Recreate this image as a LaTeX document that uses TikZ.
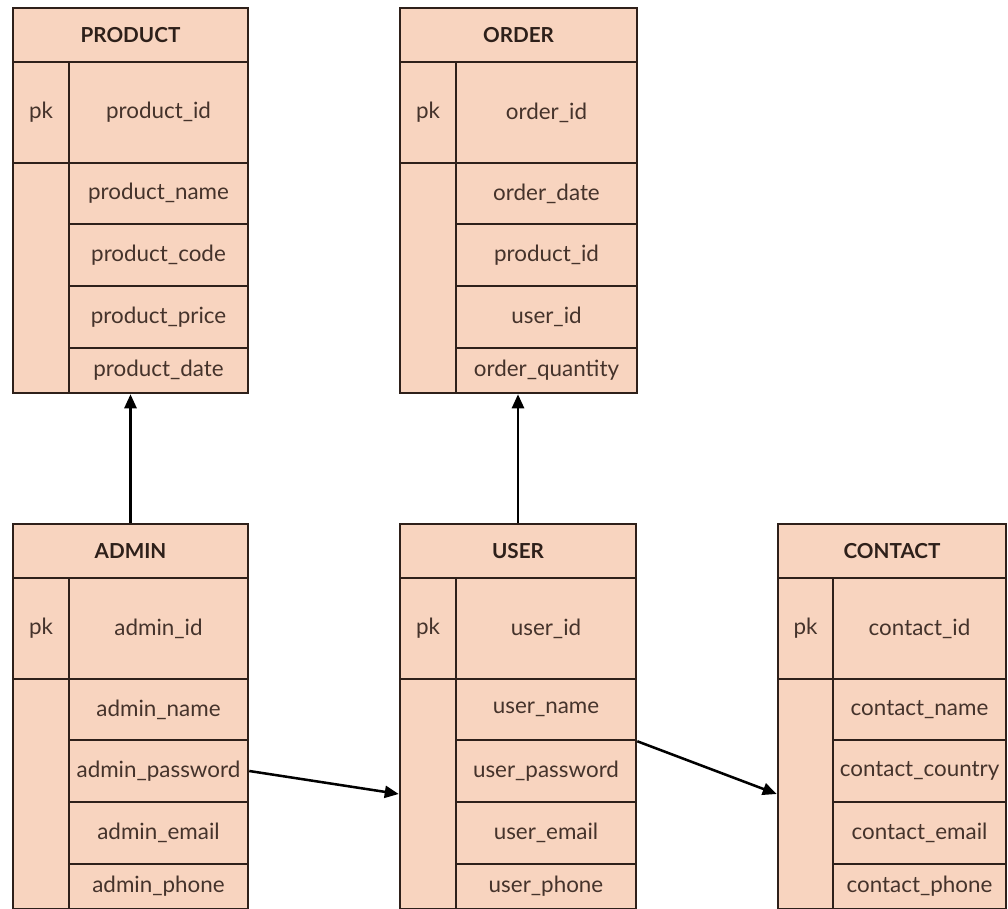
\documentclass[tikz,border=0pt]{standalone}
\usepackage{fontspec}
\setmainfont{Lato}
\usetikzlibrary{arrows.meta}
\definecolor{peach}{HTML}{F8D4BF}
\definecolor{edgec}{HTML}{2E201A}
\definecolor{ink}{HTML}{45332B}
\tikzset{
  cell/.style={draw=edgec, fill=peach, line width=1.9pt, inner sep=0pt, text=ink,
    font=\fontsize{16.8}{19}\selectfont},
  headcell/.style={cell, text=edgec, font=\bfseries\fontsize{15.5}{18}\selectfont},
  arr/.style={-{Triangle[length=10.5pt,width=9pt]}, line width=1.9pt, black},
}
% name, x1, y1, x2, y2, style, text
\newcommand\mycell[7]{%
  \node[#6, minimum width={((#4)-(#2))*0.75pt}, minimum height={((#5)-(#3))*0.75pt}]
    (#1) at ({((#2)+(#4))/2},{((#3)+(#5))/2}) {#7};}
% prefix, x0, xd, x1, ytop, header, pk field
\newcommand\mytable[7]{%
  \mycell{#1H}{#2}{#5}{#4}{(#5)+54}{headcell}{#6}
  \mycell{#1pk}{#2}{(#5)+54}{#3}{(#5)+155}{cell}{pk}
  \mycell{#1id}{#3}{(#5)+54}{#4}{(#5)+155}{cell}{#7}
  \mycell{#1L}{#2}{(#5)+155}{#3}{(#5)+385}{cell}{}}
% prefix, xd, x1, ytop, f1..f4
\newcommand\myrows[8]{%
  \mycell{#1a}{#2}{(#4)+155}{#3}{(#4)+216}{cell}{#5}
  \mycell{#1b}{#2}{(#4)+216}{#3}{(#4)+278}{cell}{#6}
  \mycell{#1c}{#2}{(#4)+278}{#3}{(#4)+340}{cell}{#7}
  \mycell{#1d}{#2}{(#4)+340}{#3}{(#4)+385}{cell}{#8}}
\begin{document}
\begin{tikzpicture}[x=0.75pt,y=-0.75pt]
\useasboundingbox (0,0) rectangle (1008,909);
% PRODUCT
\mytable{p}{13}{69}{248}{8}{PRODUCT}{product\_id}
\myrows{p}{69}{248}{8}{product\_name}{product\_code}{product\_price}{product\_date}
% ORDER
\mytable{o}{400}{456}{637}{8}{ORDER}{order\_id}
\myrows{o}{456}{637}{8}{order\_date}{product\_id}{user\_id}{order\_quantity}
% ADMIN
\mytable{a}{13}{69}{248}{524}{ADMIN}{admin\_id}
\myrows{a}{69}{248}{524}{admin\_name}{admin\_password}{admin\_email}{admin\_phone}
% USER
\mytable{u}{400}{456}{636}{524}{USER}{user\_id}
\myrows{u}{456}{636}{524}{user\_name}{user\_password}{user\_email}{user\_phone}
% CONTACT
\mytable{c}{778}{833}{1006}{524}{CONTACT}{contact\_id}
\myrows{c}{833}{1006}{524}{contact\_name}{contact\_country}{contact\_email}{contact\_phone}
% connectors
\draw[arr] (aH.north) -- (aH.north |- pd.south);
\draw[arr] (uH.north) -- (uH.north |- od.south);
\draw[arr] (ab.east) -- (uL.west);
\draw[arr] (ua.south east) -- (cL.west);
\end{tikzpicture}
\end{document}
